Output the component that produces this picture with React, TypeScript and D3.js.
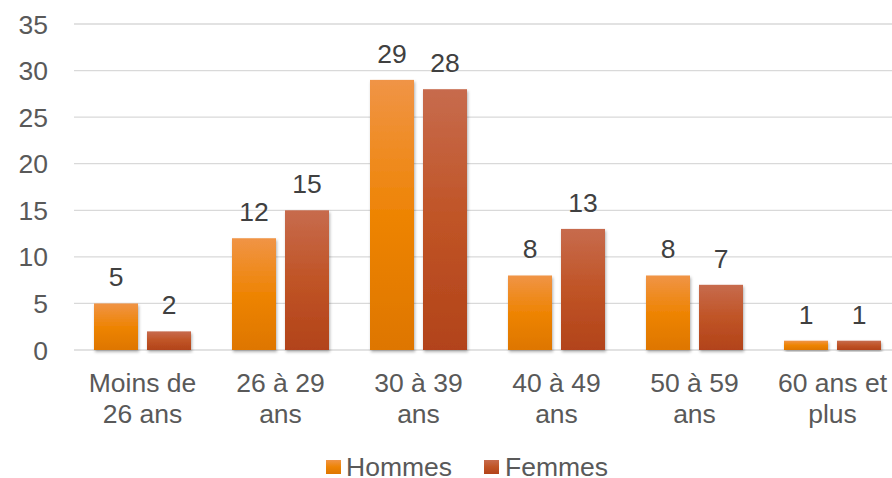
import React from "react";
import * as d3 from "d3";

const categories: string[][] = [
  ["Moins de", "26 ans"],
  ["26 à 29", "ans"],
  ["30 à 39", "ans"],
  ["40 à 49", "ans"],
  ["50 à 59", "ans"],
  ["60 ans et", "plus"],
];
const hommes = [5, 12, 29, 8, 8, 1];
const femmes = [2, 15, 28, 13, 7, 1];
const yTicks = [0, 5, 10, 15, 20, 25, 30, 35];
const seriesNames = ["Hommes", "Femmes"];

const W = 892;
const H = 478;
const left = 73.5;
const right = 901.5;
const top = 24;
const bottom = 350;

export default function App() {
  const x = d3
    .scaleBand<number>()
    .domain(categories.map((_, i) => i))
    .range([left, right]);
  const y = d3.scaleLinear().domain([0, 35]).range([bottom, top]);
  const bw = 44;
  const gap = 9;
  const fs = 26.5;
  const font = "'Liberation Sans', Arial, sans-serif";
  const series = [
    { name: seriesNames[0], values: hommes, grad: "gH" },
    { name: seriesNames[1], values: femmes, grad: "gF" },
  ];
  return (
    <svg
      width={W}
      height={H}
      style={{ position: "absolute", left: 0, top: 0 }}
      fontFamily={font}
    >
      <defs>
        <linearGradient id="gH" x1="0" y1="0" x2="0" y2="1">
          <stop offset="0" stopColor="#F09446" />
          <stop offset="0.5" stopColor="#EE8404" />
          <stop offset="1" stopColor="#DE7600" />
        </linearGradient>
        <linearGradient id="gF" x1="0" y1="0" x2="0" y2="1">
          <stop offset="0" stopColor="#C76B4D" />
          <stop offset="0.5" stopColor="#C05426" />
          <stop offset="1" stopColor="#B2431A" />
        </linearGradient>
        <filter id="sh" x="-20%" y="-20%" width="140%" height="140%">
          <feDropShadow dx="1" dy="2" stdDeviation="1.5" floodColor="#000" floodOpacity="0.3" />
        </filter>
      </defs>
      <rect width={W} height={H} fill="#fff" />
      {yTicks.map((t) => (
        <g key={t}>
          <line x1={74} x2={W} y1={y(t)} y2={y(t)} stroke="#D9D9D9" strokeWidth={1.3} />
          <text
            x={48}
            y={y(t)}
            dy="0.36em"
            textAnchor="end"
            fontSize={fs}
            fill="#595959"
          >
            {t}
          </text>
        </g>
      ))}
      {series.map((s, si) =>
        s.values.map((v, i) => {
          const cx = (x(i) as number) + x.bandwidth() / 2;
          const bx = si === 0 ? cx - gap / 2 - bw : cx + gap / 2;
          return (
            <g key={`${si}-${i}`}>
              <rect
                x={bx}
                y={y(v)}
                width={bw}
                height={y(0) - y(v)}
                fill={`url(#${s.grad})`}
                filter="url(#sh)"
              />
              <text
                x={bx + bw / 2}
                y={y(v) - 17}
                textAnchor="middle"
                fontSize={fs}
                fill="#404040"
              >
                {v}
              </text>
            </g>
          );
        })
      )}
      {categories.map((c, i) => {
        const cx = (x(i) as number) + x.bandwidth() / 2;
        return (
          <text key={i} textAnchor="middle" fontSize={fs} fill="#595959">
            {c.map((line, li) => (
              <tspan key={li} x={cx} y={392 + li * 31}>
                {line}
              </tspan>
            ))}
          </text>
        );
      })}
      <g>
        <rect x={326} y={460} width={15} height={14} fill="url(#gH)" />
        <text x={346} y={476} fontSize={fs} fill="#595959">
          {seriesNames[0]}
        </text>
        <rect x={484} y={460} width={15} height={14} fill="url(#gF)" />
        <text x={505} y={476} fontSize={fs} fill="#595959">
          {seriesNames[1]}
        </text>
      </g>
    </svg>
  );
}
